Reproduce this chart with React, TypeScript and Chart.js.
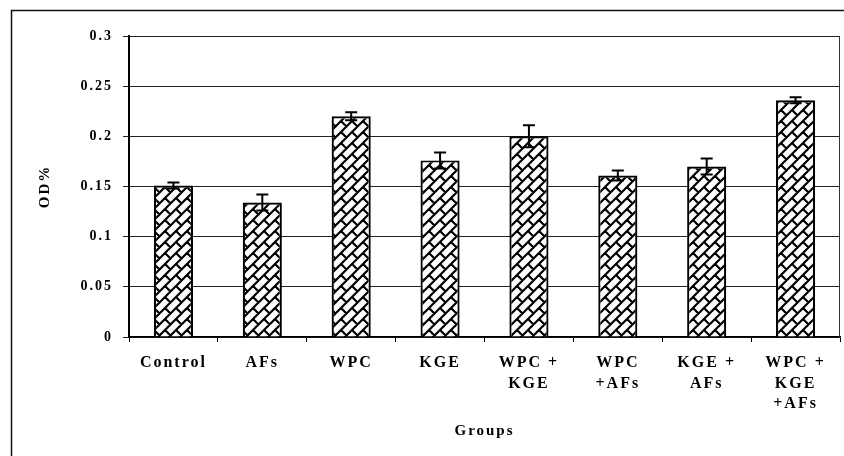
import React, { useEffect, useRef } from "react";
import { Chart, registerables } from "chart.js";

Chart.register(...registerables);

const categories: (string | string[])[] = [
  "Control",
  "AFs",
  "WPC",
  "KGE",
  ["WPC +", "KGE"],
  ["WPC", "+AFs"],
  ["KGE +", "AFs"],
  ["WPC +", "KGE", "+AFs"],
];
const odValues = [0.151, 0.134, 0.22, 0.176, 0.2, 0.161, 0.17, 0.236];
const odErrors = [0.003, 0.008, 0.004, 0.008, 0.011, 0.005, 0.008, 0.003];
const yTickLabels = ["0", "0.05", "0.1", "0.15", "0.2", "0.25", "0.3"];
const yAxisTitle = "OD%";
const xAxisTitle = "Groups";

const SERIF = "'Liberation Serif', 'Times New Roman', serif";

function makeBrickPattern(): CanvasPattern | string {
  const s = 22;
  const h = s / 2;
  const c = document.createElement("canvas");
  c.width = s;
  c.height = s;
  const g = c.getContext("2d");
  if (!g) return "#fff";
  g.fillStyle = "#fff";
  g.fillRect(0, 0, s, s);
  g.strokeStyle = "#000";
  g.lineWidth = 2.2;
  g.beginPath();
  for (let k = -3; k <= 6; k++) {
    const c0 = k * h;
    g.moveTo(-s, c0 + s);
    g.lineTo(2 * s, c0 - 2 * s);
    const s1 = c0;
    const s2 = c0 + h;
    for (let m = -3; m <= 3; m++) {
      const d = m * s + (Math.abs(k) % 2 === 1 ? h : 0);
      g.moveTo((s1 + d) / 2, (s1 - d) / 2);
      g.lineTo((s2 + d) / 2, (s2 - d) / 2);
    }
  }
  g.stroke();
  const p = g.createPattern(c, "repeat");
  return p || "#fff";
}

const letterSpacingPlugin = {
  id: "letterSpacing",
  beforeInit(chart: any) {
    chart.ctx.letterSpacing = "2px";
  },
  beforeDraw(chart: any) {
    chart.ctx.letterSpacing = "2px";
  },
};

const errorBarPlugin = {
  id: "errorBars",
  afterDatasetsDraw(chart: any) {
    const ctx = chart.ctx;
    const meta = chart.getDatasetMeta(0);
    const y = chart.scales.y;
    ctx.save();
    ctx.strokeStyle = "#000";
    ctx.lineWidth = 2;
    meta.data.forEach((el: any, i: number) => {
      const v = odValues[i];
      const e = odErrors[i];
      const yTop = y.getPixelForValue(v + e);
      const yBot = y.getPixelForValue(v - e);
      const x = el.x;
      ctx.beginPath();
      ctx.moveTo(x, yTop);
      ctx.lineTo(x, yBot);
      ctx.moveTo(x - 6, yTop);
      ctx.lineTo(x + 6, yTop);
      ctx.moveTo(x - 6, yBot);
      ctx.lineTo(x + 6, yBot);
      ctx.stroke();
    });
    ctx.restore();
  },
  afterDraw(chart: any) {
    const ctx = chart.ctx;
    const a = chart.chartArea;
    ctx.save();
    ctx.strokeStyle = "#333";
    ctx.lineWidth = 1;
    ctx.beginPath();
    ctx.moveTo(a.right - 0.5, a.top);
    ctx.lineTo(a.right - 0.5, a.bottom);
    ctx.stroke();
    ctx.strokeStyle = "#111";
    ctx.lineWidth = 1.5;
    ctx.beginPath();
    ctx.moveTo(11.5, 456);
    ctx.lineTo(11.5, 10.5);
    ctx.lineTo(844, 10.5);
    ctx.stroke();
    ctx.restore();
  },
};

export default function App() {
  const ref = useRef<HTMLCanvasElement | null>(null);
  useEffect(() => {
    if (!ref.current) return;
    const pattern = makeBrickPattern();
    const chart = new Chart(ref.current, {
      type: "bar",
      data: {
        labels: categories as any,
        datasets: [
          {
            data: odValues,
            backgroundColor: pattern as any,
            borderColor: "#000",
            borderWidth: 2.2,
            categoryPercentage: 1,
            barPercentage: 0.44,
          },
        ],
      },
      options: {
        responsive: false,
        animation: false,
        events: [],
        layout: { padding: { left: 30, right: 4, top: 36, bottom: 14 } },
        plugins: {
          legend: { display: false },
          tooltip: { enabled: false },
        },
        scales: {
          x: {
            offset: true,
            afterFit: (scale: any) => {
              scale.height = 456 - 337 - 14;
            },
            grid: {
              display: true,
              drawOnChartArea: false,
              drawTicks: true,
              tickLength: 5,
              color: "#000",
              lineWidth: 1,
            },
            border: { display: true, color: "#000", width: 1.5 },
            ticks: {
              autoSkip: false,
              maxRotation: 0,
              minRotation: 0,
              padding: 11,
              color: "#000",
              font: { family: SERIF, size: 16, weight: "bold", lineHeight: 1.27 },
            },
            title: {
              display: true,
              text: xAxisTitle,
              color: "#000",
              padding: { top: 0, bottom: 2 },
              font: { family: SERIF, size: 15, weight: "bold", lineHeight: 1.2 },
            },
          },
          y: {
            min: 0,
            max: 0.3,
            afterFit: (scale: any) => {
              scale.width = 129 - 30;
            },
            ticks: {
              stepSize: 0.05,
              padding: 10,
              color: "#000",
              font: { family: SERIF, size: 14, weight: "bold" },
              callback: (_v: any, i: number) => yTickLabels[i],
            },
            grid: {
              color: "#222",
              lineWidth: 1,
              tickLength: 6,
            },
            border: { display: true, color: "#000", width: 2 },
            title: {
              display: true,
              text: yAxisTitle,
              color: "#000",
              padding: { top: 6, bottom: 0 },
              font: { family: SERIF, size: 15, weight: "bold", lineHeight: 1.2 },
            },
          },
        },
      },
      plugins: [letterSpacingPlugin, errorBarPlugin],
    });
    return () => chart.destroy();
  }, []);
  return (
    <div style={{ position: "absolute", left: 0, top: 0, width: 844, height: 456, background: "#fff" }}>
      <canvas ref={ref} width={844} height={456} />
    </div>
  );
}
